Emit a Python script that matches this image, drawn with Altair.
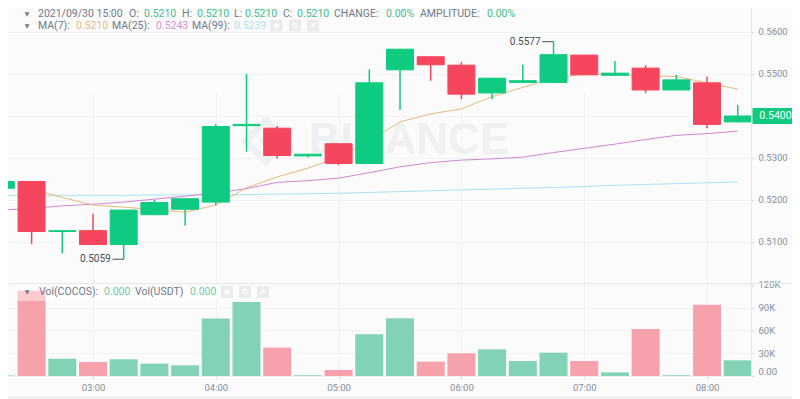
import altair as alt
import pandas as pd

# ---------------- data ----------------
times = ["02:15", "02:30", "02:45", "03:00", "03:15", "03:30", "03:45", "04:00", "04:15",
         "04:30", "04:45", "05:00", "05:15", "05:30", "05:45", "06:00", "06:15", "06:30",
         "06:45", "07:00", "07:15", "07:30", "07:45", "08:00", "08:15"]
opens = [0.5228, 0.5244, 0.5125, 0.5127, 0.5094, 0.5165, 0.5178, 0.5195, 0.5377, 0.5371,
         0.5305, 0.5334, 0.5287, 0.5510, 0.5541, 0.5521, 0.5455, 0.5480, 0.5480, 0.5545,
         0.5497, 0.5514, 0.5462, 0.5479, 0.5386]
highs = [0.5244, 0.5244, 0.5127, 0.5167, 0.5176, 0.5200, 0.5204, 0.5381, 0.5500, 0.5376,
         0.5309, 0.5334, 0.5511, 0.5560, 0.5542, 0.5529, 0.5490, 0.5522, 0.5577, 0.5545,
         0.5531, 0.5521, 0.5498, 0.5494, 0.5426]
lows = [0.5228, 0.5095, 0.5073, 0.5094, 0.5059, 0.5165, 0.5139, 0.5188, 0.5315, 0.5299,
        0.5301, 0.5283, 0.5287, 0.5414, 0.5484, 0.5440, 0.5440, 0.5479, 0.5479, 0.5497,
        0.5495, 0.5455, 0.5462, 0.5371, 0.5385]
closes = [0.5244, 0.5125, 0.5127, 0.5094, 0.5176, 0.5194, 0.5203, 0.5375, 0.5380, 0.5306,
          0.5309, 0.5287, 0.5479, 0.5559, 0.5522, 0.5452, 0.5490, 0.5484, 0.5546, 0.5498,
          0.5502, 0.5462, 0.5486, 0.5380, 0.5400]
volumes = [700, 112300, 22900, 18500, 22000, 16300, 14100, 75800, 97400, 37400, 1000, 7900,
           55100, 76200, 18900, 30000, 35200, 19800, 30800, 19800, 4800, 62100, 1000, 93800, 20700]
ma7 = [None, 0.5226, 0.5206, 0.5188, 0.5183, 0.5177, 0.5171, 0.5188, 0.5229, 0.5255, 0.5276,
       0.5301, 0.5340, 0.5386, 0.5405, 0.5417, 0.5446, 0.5468, 0.5490, 0.5500, 0.5499, 0.5496,
       0.5494, 0.5479, 0.5464]
ma25 = [0.5176, 0.5180, 0.5186, 0.5190, 0.5195, 0.5202, 0.5209, 0.5217, 0.5227, 0.5242, 0.5246,
        0.5252, 0.5265, 0.5279, 0.5289, 0.5295, 0.5298, 0.5302, 0.5313, 0.5323, 0.5333, 0.5344,
        0.5354, 0.5358, 0.5364]
ma99 = [0.5211, 0.5211, 0.5211, 0.5211, 0.5211, 0.5212, 0.5212, 0.5212, 0.5213, 0.5214, 0.5215,
        0.5216, 0.5218, 0.5220, 0.5222, 0.5224, 0.5226, 0.5228, 0.5230, 0.5232, 0.5235, 0.5237,
        0.5239, 0.5241, 0.5243]

price_ticks = [0.51, 0.52, 0.53, 0.54, 0.55, 0.56]
vol_ticks = [0, 30000, 60000, 90000, 120000]
hour_ticks = [3, 4, 5, 6, 7, 8]

# ---------------- styling ----------------
GREEN = "#0ecb81"
RED = "#f6465d"
VGREEN = "#82d3b5"
VRED = "#f6a1ab"
GRAY_TXT = "#707a8a"
AX_TXT = "#848e9c"
GRID = "#f1f2f4"
LINE = "#e6e7e9"
BG = "#fbfbfb"
FONT = "Roboto"
PRICE_H = 283   # height of the candle pane
TOTAL_H = 376   # bottom of the volume pane

def ts(s):
    return "2021-09-30T" + s + ":00Z"

df = pd.DataFrame({
    "t": [ts(s) for s in times], "o": opens, "h": highs, "l": lows, "c": closes,
    "v": volumes, "ma7": ma7, "ma25": ma25, "ma99": ma99,
})

imax = highs.index(max(highs))
imin = lows.index(min(lows))
def shift(s, minutes):
    return (pd.Timestamp("2021-09-30 " + s) - pd.Timedelta(minutes=minutes)).strftime("%Y-%m-%dT%H:%M:%SZ")
ext = pd.DataFrame({
    "t": [ts(times[imax]), ts(times[imin])],
    "tl": [shift(times[imax], 5.5), shift(times[imin], 5.5)],
    "val": [highs[imax], lows[imin]],
})
last = df.tail(1)
one = pd.DataFrame({"k": [0]})

def dt(h, m=0, s=0):
    return alt.DateTime(year=2021, month=9, date=30, hours=h, minutes=m, seconds=s, utc=True)

xscale = alt.Scale(type="utc", domain=[dt(2, 14, 34), dt(8, 21, 29)], padding=0)
hour_vals = [dt(h) for h in hour_ticks]
pscale = alt.Scale(domain=[0.500238, 0.567619], range=[PRICE_H, 0], nice=False, zero=False, padding=0)
vscale = alt.Scale(domain=[0, 122600], range=[TOTAL_H, PRICE_H], nice=False, padding=0)

x_axis = alt.Axis(values=hour_vals, format="%H:%M", tickSize=3, labelPadding=3.5, domain=False,
                  grid=True, title=None)
# the last price sits in a box on the axis, so its own tick label is left blank
price_axis = alt.Axis(orient="right", values=price_ticks, tickSize=3, labelPadding=4, grid=True,
                      title=None,
                      labelExpr="abs(datum.value - %s) < 1e-9 ? '' : format(datum.value, '.4f')" % closes[-1])
vol_axis = alt.Axis(orient="right", values=vol_ticks, tickSize=3, labelPadding=4, grid=True,
                    labelFlush=True, title=None,
                    labelExpr="datum.value == 0 ? '0.00' : (datum.value / 1000) + 'K'")

def X(field="t"):
    return alt.X(field, type="temporal", scale=xscale, axis=x_axis, title=None)

def YP(field):
    return alt.Y(field, type="quantitative", scale=pscale, axis=price_axis, title=None)

up = "datum.c >= datum.o"

def txt(s, x, y, color, size=10.5, align="left", weight="normal", font=FONT):
    return alt.Chart(one).mark_text(text=s, align=align, baseline="middle", fontSize=size,
                                    color=color, font=font, fontWeight=weight).encode(
        x=alt.value(x), y=alt.value(y))

def icon(x, y, glyph):
    sq = alt.Chart(one).mark_square(size=144, color="#ebebeb", opacity=1, filled=True).encode(
        x=alt.value(x), y=alt.value(y))
    g = txt(glyph, x, y, "#ffffff", size=8, align="center", font="DejaVu Sans")
    return [sq, g]

# ---------------- price pane ----------------
wm_logo_outer = alt.Chart(one).mark_point(shape="diamond", filled=False, strokeWidth=7,
                                          color="#eff0f2", opacity=1, size=1700).encode(
    x=alt.value(266), y=alt.value(141))
wm_logo_inner = alt.Chart(one).mark_point(shape="diamond", filled=True, color="#eff0f2",
                                          opacity=1, size=180).encode(x=alt.value(266), y=alt.value(141))
wm_text = txt("BINANCE", 409, 141, "#eff0f2", size=44, align="center", weight="bold",
              font="Liberation Sans")

base = alt.Chart(df)
l99 = base.mark_line(color="#a8e3f0", strokeWidth=1, clip=True).encode(x=X(), y=YP("ma99"))
l25 = base.mark_line(color="#cf86d6", strokeWidth=1, clip=True).encode(x=X(), y=YP("ma25"))
l7 = base.mark_line(color="#e9b87b", strokeWidth=1, clip=True).encode(x=X(), y=YP("ma7"))

wicks = base.mark_rule(strokeWidth=1.5, clip=True).encode(
    x=X(), y=YP("l"), y2="h",
    color=alt.condition(up, alt.value(GREEN), alt.value(RED)))
bodies = base.mark_bar(width=27, strokeWidth=1, clip=True).encode(
    x=X(), y=YP("o"), y2="c",
    color=alt.condition(up, alt.value(GREEN), alt.value(RED)),
    stroke=alt.condition(up, alt.value(GREEN), alt.value(RED)))

ext_rule = alt.Chart(ext).mark_rule(color="#474d57", strokeWidth=1).encode(
    x=X(), x2="tl:T", y=YP("val"))
ext_text = alt.Chart(ext).mark_text(align="right", baseline="middle", dx=-13, fontSize=10,
                                    color="#474d57", font=FONT).encode(
    x=X(), y=YP("val"), text=alt.Text("val:Q", format=".4f"))

box = alt.Chart(last).mark_point(shape="M-1,-0.35L0.96,-0.35L0.96,0.35L-1,0.35Z", filled=True,
                                 size=46 * 46, color=GREEN, opacity=1, strokeWidth=0).encode(
    x=alt.value(775.5), y=YP("c"))
box_text = alt.Chart(last).mark_text(color="white", fontSize=10.5, font=FONT, baseline="middle").encode(
    x=alt.value(775.5), y=YP("c"), text=alt.Text("c:Q", format=".4f"))

GV = "#3cc08f"
Y1, Y2 = 13.5, 25.5
legend1 = [
    txt("▼", 27, Y1, GRAY_TXT, size=6, align="center", font="DejaVu Sans"),
    txt("2021/09/30 15:00", 38, Y1, GRAY_TXT),
    txt("O:", 129, Y1, GRAY_TXT), txt("0.5210", 144, Y1, GV),
    txt("H:", 182, Y1, GRAY_TXT), txt("0.5210", 197, Y1, GV),
    txt("L:", 234, Y1, GRAY_TXT), txt("0.5210", 245, Y1, GV),
    txt("C:", 283, Y1, GRAY_TXT), txt("0.5210", 297, Y1, GV),
    txt("CHANGE:", 334, Y1, GRAY_TXT), txt("0.00%", 386, Y1, GV),
    txt("AMPLITUDE:", 420, Y1, GRAY_TXT), txt("0.00%", 487, Y1, GV),
]
legend2 = [
    txt("▼", 27, Y2, GRAY_TXT, size=6, align="center", font="DejaVu Sans"),
    txt("MA(7):", 38, Y2, GRAY_TXT), txt("0.5210", 76, Y2, "#e6b983"),
    txt("MA(25):", 112, Y2, GRAY_TXT), txt("0.5243", 156, Y2, "#d690da"),
    txt("MA(99):", 192, Y2, GRAY_TXT), txt("0.5239", 234, Y2, "#a6e4f2"),
] + icon(276.5, Y2, "◉") + icon(295, Y2, "⚙") + icon(313, Y2, "✕")

price = alt.layer(
    wm_logo_outer, wm_logo_inner, wm_text, l99, l25, l7, wicks, bodies, ext_rule, ext_text,
    *legend1, *legend2, box, box_text
)

# ---------------- volume pane ----------------
VY = PRICE_H + 9
vbars = base.mark_bar(width=28, clip=True).encode(
    x=X(), y=alt.Y("v:Q", scale=vscale, axis=vol_axis, title=None),
    color=alt.condition(up, alt.value(VGREEN), alt.value(VRED)))
vleg_bg = alt.Chart(one).mark_rect(color="white", opacity=0.45).encode(
    x=alt.value(16), x2=alt.value(272), y=alt.value(PRICE_H + 1), y2=alt.value(PRICE_H + 18))
sep_top = alt.Chart(one).mark_rule(color=LINE, strokeWidth=1).encode(
    x=alt.value(0), x2=alt.value(800), y=alt.value(PRICE_H + 0.5))
sep_bot = alt.Chart(one).mark_rule(color=LINE, strokeWidth=1).encode(
    x=alt.value(0), x2=alt.value(800), y=alt.value(397.5))
vlegend = [
    txt("▼", 27, VY, GRAY_TXT, size=6, align="center", font="DejaVu Sans"),
    txt("Vol(COCOS):", 39, VY, GRAY_TXT), txt("0.000", 104, VY, "#6fc9a4"),
    txt("Vol(USDT)", 135, VY, GRAY_TXT), txt("0.000", 190, VY, "#6fc9a4"),
] + icon(227, VY, "◉") + icon(245, VY, "⚙") + icon(263, VY, "✕")

vol = alt.layer(vbars, vleg_bg, sep_top, sep_bot, *vlegend)

chart = alt.layer(price, vol).resolve_scale(y="independent").properties(
    width=751, height=TOTAL_H,
    autosize=alt.AutoSizeParams(type="none"),
    padding={"left": -8, "top": -8, "right": 41, "bottom": 23},
    background=BG,
).configure_view(stroke=None).configure_axis(
    labelFont=FONT, labelFontSize=9.5, labelColor=AX_TXT, domainColor=LINE, tickColor="#d9dbde",
    gridColor=GRID, gridWidth=1,
)

chart.save("out.html", embed_options={"renderer": "svg", "actions": False})
